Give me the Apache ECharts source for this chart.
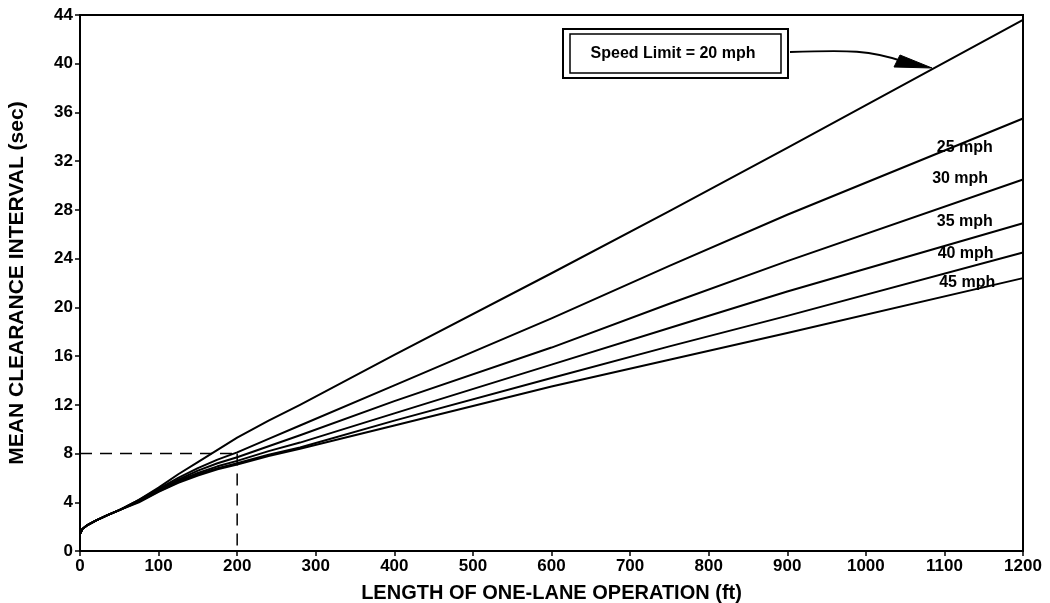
<!DOCTYPE html>
<html>
<head>
<meta charset="utf-8">
<script src="https://cdn.jsdelivr.net/npm/echarts@6/dist/echarts.min.js"></script>
<style>
html,body{margin:0;padding:0;background:#fff;}
#chart{width:1050px;height:603px;}
</style>
</head>
<body>
<div id="chart"></div>
<script>
// Length of one-lane operation (ft)
var lengths = [0, 3, 10, 20, 35, 50, 75, 100, 125, 150, 175, 200, 240, 280, 400, 600, 750, 900, 1200];
// Mean clearance interval (sec) per speed limit
var mph20 = [1.4, 1.8, 2.15, 2.5, 2.95, 3.35, 4.2, 5.2, 6.3, 7.3, 8.3, 9.3, 10.7, 12.0, 16.1, 22.8, 27.9, 33.1, 43.6];
var mph25 = [1.4, 1.8, 2.15, 2.5, 2.95, 3.35, 4.2, 5.1, 6.0, 6.8, 7.5, 8.1, 9.2, 10.3, 13.6, 19.1, 23.4, 27.6, 35.5];
var mph30 = [1.4, 1.8, 2.15, 2.5, 2.95, 3.35, 4.1, 5.0, 5.85, 6.6, 7.2, 7.7, 8.6, 9.5, 12.3, 16.7, 20.3, 23.8, 30.5];
var mph35 = [1.4, 1.8, 2.15, 2.5, 2.95, 3.35, 4.1, 4.95, 5.75, 6.4, 6.95, 7.4, 8.2, 8.9, 11.3, 15.3, 18.3, 21.3, 26.9];
var mph40 = [1.4, 1.8, 2.15, 2.5, 2.95, 3.35, 4.05, 4.9, 5.65, 6.3, 6.8, 7.2, 7.9, 8.5, 10.7, 14.2, 16.8, 19.3, 24.5];
var mph45 = [1.4, 1.8, 2.15, 2.5, 2.95, 3.35, 4.0, 4.85, 5.6, 6.2, 6.7, 7.1, 7.8, 8.4, 10.3, 13.5, 15.7, 17.9, 22.4];
var speedNames = ['20 mph', '25 mph', '30 mph', '35 mph', '40 mph', '45 mph'];
var speedSeries = [mph20, mph25, mph30, mph35, mph40, mph45];
// Curve labels (data coordinates of label centres)
var labelTexts = ['25 mph', '30 mph', '35 mph', '40 mph', '45 mph'];
var labelX = [1126, 1120, 1126, 1127, 1129];
var labelY = [33.1, 30.6, 27.0, 24.4, 22.0];
// Worked example (dashed guide)
var exampleLength = 200;
var exampleTime = 8;
var xTicks = {min: 0, max: 1200, interval: 100};
var yTicks = {min: 0, max: 44, interval: 4};

var FONT = '"Liberation Sans", Arial, Helvetica, sans-serif';

function zip(xs, ys) { return xs.map(function (x, i) { return [x, ys[i]]; }); }

var series = speedSeries.map(function (vals, i) {
  return {
    name: speedNames[i], type: 'line', data: zip(lengths, vals),
    smooth: false, showSymbol: false, symbol: 'none',
    lineStyle: {color: '#000', width: 2, join: 'round'}, z: 3
  };
});
series.push({
  type: 'line', data: [[0, exampleTime], [exampleLength, exampleTime]],
  showSymbol: false, symbol: 'none',
  lineStyle: {color: '#000', width: 1.5, type: [12, 8]}, z: 2
});
series.push({
  type: 'line', data: [[exampleLength, exampleTime], [exampleLength, 0]],
  showSymbol: false, symbol: 'none',
  lineStyle: {color: '#000', width: 1.5, type: [12, 8]}, z: 2
});

var chart = echarts.init(document.getElementById('chart'));
chart.setOption({
  animation: false,
  backgroundColor: '#fff',
  grid: {left: 80, right: 27, top: 15, bottom: 52, show: true, borderColor: '#000', borderWidth: 2,
    backgroundColor: 'transparent', containLabel: false, outerBoundsMode: 'none'},
  xAxis: {
    type: 'value', min: xTicks.min, max: xTicks.max, interval: xTicks.interval,
    name: 'LENGTH OF ONE-LANE OPERATION (ft)', nameLocation: 'middle', nameGap: 32,
    nameTextStyle: {color: '#000', fontFamily: FONT, fontSize: 20, fontWeight: 'bold'},
    axisLine: {lineStyle: {color: '#000', width: 2}},
    axisTick: {show: true, inside: false, length: 5, lineStyle: {color: '#000', width: 1.5}},
    axisLabel: {color: '#000', fontFamily: FONT, fontSize: 17, fontWeight: 'bold', margin: 7,
      formatter: function (v) { return String(v); }},
    splitLine: {show: false}
  },
  yAxis: {
    type: 'value', min: yTicks.min, max: yTicks.max, interval: yTicks.interval,
    name: 'MEAN CLEARANCE INTERVAL (sec)', nameLocation: 'middle', nameGap: 52,
    nameTextStyle: {color: '#000', fontFamily: FONT, fontSize: 21, fontWeight: 'bold'},
    axisLine: {lineStyle: {color: '#000', width: 2}},
    axisTick: {show: true, inside: false, length: 5, lineStyle: {color: '#000', width: 1.5}},
    axisLabel: {color: '#000', fontFamily: FONT, fontSize: 17, fontWeight: 'bold', margin: 7,
      formatter: function (v) { return String(v); }},
    splitLine: {show: false}
  },
  series: series
});

var graphics = [
  {type: 'rect', shape: {x: 563, y: 29, width: 225, height: 49}, style: {fill: '#fff', stroke: '#000', lineWidth: 2}, z: 10},
  {type: 'rect', shape: {x: 570, y: 34, width: 211, height: 39}, style: {fill: 'none', stroke: '#000', lineWidth: 1.5}, z: 11},
  {type: 'text', x: 673, y: 53.5, style: {text: 'Speed Limit = 20 mph', fill: '#000', font: 'bold 16px ' + FONT, textAlign: 'center', textVerticalAlign: 'middle'}, z: 12},
  {type: 'bezierCurve', shape: {x1: 790, y1: 52, cpx1: 850, cpy1: 50, cpx2: 870, cpy2: 50, x2: 905, y2: 62}, style: {stroke: '#000', lineWidth: 2, fill: 'none'}, z: 12},
  {type: 'polygon', shape: {points: [[932, 68], [900, 55], [894, 67]]}, style: {fill: '#000', stroke: '#000', lineWidth: 1}, z: 12}
];
labelTexts.forEach(function (t, i) {
  var p = chart.convertToPixel({gridIndex: 0}, [labelX[i], labelY[i]]);
  graphics.push({type: 'text', x: p[0], y: p[1], z: 12,
    style: {text: t, fill: '#000', font: 'bold 16px ' + FONT, textAlign: 'center', textVerticalAlign: 'middle'}});
});
chart.setOption({graphic: graphics});
</script>
</body>
</html>
